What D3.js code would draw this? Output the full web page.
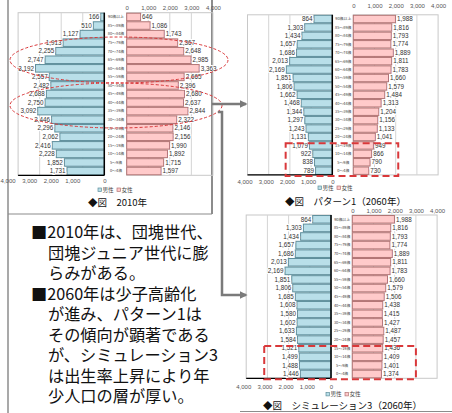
<!DOCTYPE html>
<html>
<head>
<meta charset="utf-8">
<script src="https://cdn.jsdelivr.net/npm/d3@7"></script>
<style>
  html, body { margin: 0; padding: 0; background: #fff; }
  svg { display: block; }
  text { font-family: "Liberation Sans", Arial, sans-serif; }
  .jp { font-family: "Noto Sans CJK JP", sans-serif; }
</style>
</head>
<body>
<svg id="chart" width="452" height="413"></svg>
<script>
// Age groups, oldest at the top
const ages = ["90歳以上","85～89歳","80～84歳","75～79歳","70～74歳","65～69歳","60～64歳",
  "55～59歳","50～54歳","45～49歳","40～44歳","35～39歳","30～34歳","25～29歳",
  "20～24歳","15～19歳","10～14歳","5～9歳","0～4歳"];

// Population (thousands) – 2010
const male2010   = [166,510,1127,1913,2255,2747,3192,2557,2482,2688,2750,3092,2446,2296,2062,2416,2228,1852,1731];
const female2010 = [646,1086,1743,2367,2648,2985,3363,2665,2396,2680,2637,2844,2322,2146,2156,1990,1892,1715,1597];

// Pattern 1 (2060)
const maleP1   = [864,1303,1434,1657,1686,2013,2169,1851,1806,1662,1468,1344,1297,1243,1131,1079,922,838,789];
const femaleP1 = [1988,1816,1793,1774,1889,1811,1783,1660,1579,1484,1313,1204,1156,1133,1041,949,866,790,730];

// Simulation 3 (2060)
const maleS3   = [864,1303,1434,1657,1686,2013,2169,1851,1806,1685,1608,1580,1602,1633,1584,1521,1499,1488,1446];
const femaleS3 = [1988,1816,1793,1774,1889,1811,1783,1660,1579,1506,1438,1415,1427,1487,1457,1436,1409,1401,1374];

const tickValues = [0, 1000, 2000, 3000, 4000];
const legendLabels = ["男性", "女性"];

const MALE_FILL = "#b9dfe9", MALE_STROKE = "#5e8e9b";
const FEMALE_FILL = "#ffcaca", FEMALE_STROKE = "#b27474";
const RED = "#d9383a";

const svg = d3.select("#chart");
const fmt = d3.format(",");

function pyramid(o) {
  const g = svg.append("g");
  const xm = d3.scaleLinear().domain([0, 4000]).range([o.male0, o.male0 - 4 * o.k]);
  const xf = d3.scaleLinear().domain([0, 4000]).range([o.female0, o.female0 + 4 * o.k]);
  const y = d3.scaleBand().domain(ages).range([o.top, o.bottom]).paddingInner(0.12).paddingOuter(0.06);

  // plot frames
  g.append("rect").attr("x", xm(4000)).attr("y", o.top).attr("width", xm(0) - xm(4000)).attr("height", o.bottom - o.top)
    .attr("fill", "none").attr("stroke", "#c8c8c8").attr("stroke-width", 1);
  g.append("rect").attr("x", xf(0)).attr("y", o.top).attr("width", xf(4000) - xf(0)).attr("height", o.bottom - o.top)
    .attr("fill", "none").attr("stroke", "#c8c8c8").attr("stroke-width", 1);

  // gridlines
  g.selectAll(".gm").data(tickValues.slice(1, 4)).join("line")
    .attr("x1", d => xm(d)).attr("x2", d => xm(d)).attr("y1", o.top).attr("y2", o.bottom)
    .attr("stroke", "#d4d4d4").attr("stroke-width", 1);
  g.selectAll(".gf").data(tickValues.slice(1, 4)).join("line")
    .attr("x1", d => xf(d)).attr("x2", d => xf(d)).attr("y1", o.top).attr("y2", o.bottom)
    .attr("stroke", "#d4d4d4").attr("stroke-width", 1);

  // bars
  g.selectAll(".bm").data(o.male).join("rect")
    .attr("x", d => xm(d)).attr("y", (d, i) => y(ages[i]))
    .attr("width", d => xm(0) - xm(d)).attr("height", y.bandwidth())
    .attr("fill", MALE_FILL).attr("stroke", MALE_STROKE).attr("stroke-width", 1);
  g.selectAll(".bf").data(o.female).join("rect")
    .attr("x", xf(0)).attr("y", (d, i) => y(ages[i]))
    .attr("width", d => xf(d) - xf(0)).attr("height", y.bandwidth())
    .attr("fill", FEMALE_FILL).attr("stroke", FEMALE_STROKE).attr("stroke-width", 1);

  // centre and bottom axis lines
  g.append("line").attr("x1", xm(0)).attr("x2", xm(0)).attr("y1", o.top).attr("y2", o.bottom)
    .attr("stroke", "#000").attr("stroke-width", 1.5);
  g.append("line").attr("x1", xm(4000)).attr("x2", xm(0)).attr("y1", o.bottom).attr("y2", o.bottom)
    .attr("stroke", "#000").attr("stroke-width", 1.2);

  // value labels
  g.selectAll(".lm").data(o.male).join("text")
    .attr("x", d => xm(d) - 1.5).attr("y", (d, i) => y(ages[i]) + y.bandwidth() / 2)
    .attr("dy", "0.35em").attr("text-anchor", "end")
    .attr("font-size", 6.3).attr("fill", "#333")
    .attr("stroke", "#fff").attr("stroke-width", 2).attr("paint-order", "stroke")
    .text(d => fmt(d));
  g.selectAll(".lf").data(o.female).join("text")
    .attr("x", d => xf(d) + 1.5).attr("y", (d, i) => y(ages[i]) + y.bandwidth() / 2)
    .attr("dy", "0.35em").attr("text-anchor", "start")
    .attr("font-size", 6.3).attr("fill", "#333")
    .attr("stroke", "#fff").attr("stroke-width", 2).attr("paint-order", "stroke")
    .text(d => fmt(d));

  // age labels between the halves
  g.selectAll(".age").data(ages).join("text").attr("class", "jp")
    .attr("x", (xm(0) + xf(0)) / 2 + 0.5).attr("y", d => y(d) + y.bandwidth() / 2)
    .attr("dy", "0.35em").attr("text-anchor", "middle")
    .attr("font-size", 3.9).attr("fill", "#444")
    .text(d => d);

  // axes
  const axM = g.append("g").attr("transform", `translate(0,${o.bottomLabelY})`)
    .call(d3.axisBottom(xm).tickValues(tickValues).tickFormat(fmt).tickSize(0).tickPadding(0));
  axM.select(".domain").remove();
  axM.selectAll("text").attr("font-size", 6).attr("fill", "#555")
    .attr("font-family", "Liberation Sans, Arial, sans-serif")
    .attr("dx", d => d === 0 ? 0 : o.maleLabelShift);
  const axF = g.append("g").attr("transform", `translate(0,${o.topLabelY})`)
    .call(d3.axisTop(xf).tickValues(tickValues).tickFormat(fmt).tickSize(0).tickPadding(0));
  axF.select(".domain").remove();
  axF.selectAll("text").attr("font-size", 6).attr("fill", "#555")
    .attr("font-family", "Liberation Sans, Arial, sans-serif");

  // legend
  const lg = g.append("g").attr("transform", `translate(${o.legendX},${o.legendY})`);
  lg.selectAll("rect").data(legendLabels).join("rect")
    .attr("x", (d, i) => i * 19).attr("y", -2).attr("width", 3.4).attr("height", 3.4)
    .attr("fill", (d, i) => i ? FEMALE_FILL : MALE_FILL)
    .attr("stroke", (d, i) => i ? FEMALE_STROKE : MALE_STROKE).attr("stroke-width", 0.7);
  lg.selectAll("text").data(legendLabels).join("text").attr("class", "jp")
    .attr("x", (d, i) => i * 19 + 4.4).attr("y", 0).attr("dy", "0.35em")
    .attr("font-size", 5.6).attr("fill", "#444").text(d => d);

  // caption
  g.append("text").attr("class", "jp").attr("x", o.captionX).attr("y", o.captionY)
    .attr("font-size", 9.5).attr("fill", "#111").text(o.caption);

  return { xm, xf, y };
}

// outer framing lines
svg.append("line").attr("x1", 8).attr("x2", 8).attr("y1", 0).attr("y2", 413).attr("stroke", "#8c8c8c").attr("stroke-width", 1.5);
svg.append("line").attr("x1", 212).attr("x2", 212).attr("y1", 0).attr("y2", 214).attr("stroke", "#8c8c8c").attr("stroke-width", 2);
svg.append("line").attr("x1", 8).attr("x2", 212).attr("y1", 214).attr("y2", 214).attr("stroke", "#8c8c8c").attr("stroke-width", 1.2);
svg.append("line").attr("x1", 240).attr("x2", 452).attr("y1", 411.5).attr("y2", 411.5).attr("stroke", "#8c8c8c").attr("stroke-width", 1.2);

const p0 = pyramid({
  male: male2010, female: female2010, male0: 104.3, female0: 126.7, k: 21.55,
  top: 12.7, bottom: 175.3, topLabelY: 9.5, bottomLabelY: 179, maleLabelShift: -10.5,
  legendX: 98, legendY: 190, caption: "◆図　2010年", captionX: 88, captionY: 206
});

const p1 = pyramid({
  male: maleP1, female: femaleP1, male0: 332.3, female0: 353.3, k: 21.2,
  top: 14.8, bottom: 174.9, topLabelY: 7.5, bottomLabelY: 179.5, maleLabelShift: -3,
  legendX: 318, legendY: 188, caption: "◆図　パターン1（2060年）", captionX: 285, captionY: 205
});

const p3 = pyramid({
  male: maleS3, female: femaleS3, male0: 331, female0: 352.3, k: 21.2,
  top: 215, bottom: 378.3, topLabelY: 212.5, bottomLabelY: 385, maleLabelShift: -3,
  legendX: 326, legendY: 394.5, caption: "◆図　シミュレーション3（2060年）", captionX: 263, captionY: 409.2
});

// dashed ellipses marking the two baby-boom cohorts
const ellipses = [{ cx: 119, cy: 60, rx: 109, ry: 23 }, { cx: 116, cy: 105.5, rx: 106, ry: 22.5 }];
svg.selectAll(".ell").data(ellipses).join("ellipse")
  .attr("cx", d => d.cx).attr("cy", d => d.cy).attr("rx", d => d.rx).attr("ry", d => d.ry)
  .attr("fill", "none").attr("stroke", RED).attr("stroke-width", 1).attr("stroke-dasharray", "3,2");

// dashed boxes around the young-age rows (0–19)
function youngBox(p, lo, hi) {
  const x0 = p.xm(lo), x1 = p.xf(hi);
  const yTop = p.y(ages[15]) + 1.5, yBot = p.y(ages[18]) + p.y.bandwidth() + 1.5;
  svg.append("rect").attr("x", x0).attr("y", yTop).attr("width", x1 - x0).attr("height", yBot - yTop)
    .attr("fill", "none").attr("stroke", RED).attr("stroke-width", 2).attr("stroke-dasharray", "7,4");
}
youngBox(p1, 2200, 2120);
youngBox(p3, 3150, 3000);

// arrows toward the 2060 pyramids
const defs = svg.append("defs");
defs.append("marker").attr("id", "ah").attr("viewBox", "0 0 10 10").attr("refX", 8).attr("refY", 5)
  .attr("markerWidth", 3.2).attr("markerHeight", 3.2).attr("orient", "auto")
  .append("path").attr("d", "M0,0 L10,5 L0,10 z").attr("fill", "#7a7a7a");
svg.append("path").attr("d", "M212,104 L246,104").attr("fill", "none").attr("stroke", "#7a7a7a")
  .attr("stroke-width", 2.5).attr("marker-end", "url(#ah)");
svg.append("path").attr("d", "M218,112 L222,112 L222,295 L246,295").attr("fill", "none").attr("stroke", "#7a7a7a")
  .attr("stroke-width", 2.5).attr("marker-end", "url(#ah)");

// commentary, set as one text block with a line per tspan
const notes = [
  { t: "■2010年は、団塊世代、", x: 31, y: 238 },
  { t: "団塊ジュニア世代に膨", x: 48, y: 258.5 },
  { t: "らみがある。", x: 48, y: 279 },
  { t: "■2060年は少子高齢化", x: 31, y: 299.5 },
  { t: "が進み、パターン1は", x: 48, y: 320 },
  { t: "その傾向が顕著である", x: 48, y: 340.5 },
  { t: "が、シミュレーション3", x: 48, y: 361 },
  { t: "は出生率上昇により年", x: 48, y: 381.5 },
  { t: "少人口の層が厚い。", x: 48, y: 402 }
];
svg.append("text").attr("class", "jp").attr("font-size", 16.2).attr("fill", "#111")
  .selectAll("tspan").data(notes).join("tspan")
  .attr("x", d => d.x).attr("y", d => d.y).text(d => d.t);
</script>
</body>
</html>
